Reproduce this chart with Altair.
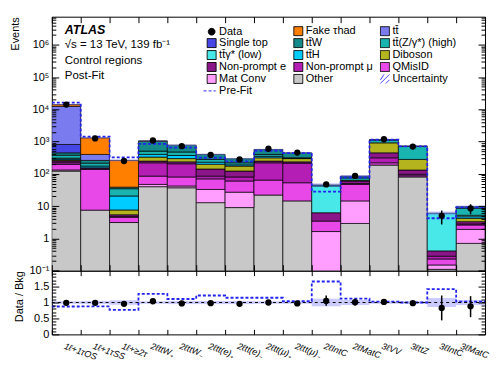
import json
import altair as alt
import pandas as pd

regions = ["1ℓ+1τOS", "1ℓ+1τSS", "1ℓ+≥2τ", "2ℓttW₊", "2ℓttW₋", "2ℓtt(e)₊", "2ℓtt(e)₋",
           "2ℓtt(μ)₊", "2ℓtt(μ)₋", "2ℓIntC", "2ℓMatC", "3ℓVV", "3ℓttZ", "3ℓIntC", "3ℓMatC"]

# post-fit yields, stacked bottom -> top
other      = [122, 7.5, 3.1, 40, 37, 12.8, 9, 22, 14.5, 0.03, 2.9, 187, 80, 0.11, 0.7]
mat_conv   = [10, 0, 0, 7, 5, 20, 18, 0, 0, 1.6, 11.6, 0, 0, 0.04, 1.2]
qmisid     = [64, 130, 1.4, 38, 38, 37, 33, 42, 38.5, 1.8, 32.5, 33, 7, 0.08, 0.7]
np_mu      = [25, 7, 0.3, 135, 125, 15, 20, 156, 162, 0, 3, 94, 10, 0.05, 0.2]
np_e       = [30, 10, 0.6, 28, 30, 56, 42, 28, 20, 2.8, 10, 134, 34, 0.13, 0.5]
diboson    = [16, 0, 2.2, 82, 62, 58, 52, 66, 62, 0, 3, 464, 149, 0, 0.9]
tth        = [20, 20, 13, 70, 73, 31, 16, 36, 7, 0, 0, 0, 0, 0, 0.5]
ttgam_low  = [20, 0, 0, 0, 0, 0, 0, 0, 0, 36, 0, 0, 0, 5.6, 0.5]
ttz_high   = [70, 40, 14, 106, 106, 50, 30, 50, 10, 3, 12, 200, 430, 0, 3.4]
ttw        = [71, 46, 4, 522, 298, 120, 73, 170, 134, 0, 10, 48, 10, 0, 1]
single_top = [365, 0, 0, 0, 0, 0, 0, 0, 0, 0, 0, 0, 0, 0, 0]
ttbar      = [11570, 139, 0, 0, 0, 0, 0, 0, 0, 0, 0, 0, 0, 0, 0]
fake_tau   = [1600, 900, 222, 8, 0, 0, 0, 0, 0, 0, 0, 0, 0, 0, 0]

data_obs = [14000, 1250, 250, 1080, 720, 385, 280, 600, 455, 47, 86, 1180, 700, 5.0, 8.5]
data_err = [118, 35, 16, 33, 27, 20, 17, 25, 21, 7, 9.3, 34, 26, 2.3, 2.9]
prefit   = [16000, 1420, 325, 850, 650, 315, 245, 520, 440, 28, 77, 1140, 710, 4.2, 9.2]

ratio_data   = [0.99, 0.99, 0.96, 1.04, 0.97, 0.98, 0.96, 1.0, 0.97, 1.05, 1.01, 1.02, 0.98, 0.83, 0.88]
ratio_lo     = [0.98, 0.97, 0.90, 1.01, 0.94, 0.93, 0.90, 0.96, 0.92, 0.90, 0.90, 0.99, 0.94, 0.44, 0.54]
ratio_hi     = [1.00, 1.02, 1.02, 1.07, 1.00, 1.03, 1.02, 1.04, 1.02, 1.22, 1.12, 1.05, 1.02, 1.22, 1.20]
ratio_prefit = [0.875, 0.88, 0.77, 1.27, 1.11, 1.22, 1.15, 1.15, 1.04, 1.66, 1.12, 1.03, 1.0, 1.42, 1.03]
unc_lo = [0.96, 0.95, 0.93, 0.96, 0.95, 0.95, 0.95, 0.96, 0.96, 0.88, 0.92, 0.96, 0.96, 0.86, 0.92]
unc_hi = [1.04, 1.05, 1.07, 1.04, 1.05, 1.05, 1.05, 1.04, 1.04, 1.12, 1.08, 1.04, 1.04, 1.14, 1.08]

stack_names = ["Other", "Mat Conv", "QMisID", "Non-prompt μ", "Non-prompt e", "Diboson", "tt̄H",
               "tt̄γ* (low)", "tt̄(Z/γ*) (high)", "tt̄W", "Single top", "tt̄", "Fake τhad"]
stack_values = [other, mat_conv, qmisid, np_mu, np_e, diboson, tth, ttgam_low, ttz_high, ttw,
                single_top, ttbar, fake_tau]

legend_order = ["Data", "Fake τhad", "tt̄", "Single top", "tt̄W", "tt̄(Z/γ*) (high)",
                "tt̄γ* (low)", "tt̄H", "Diboson", "Non-prompt e", "Non-prompt μ", "QMisID",
                "Mat Conv", "Other", "Uncertainty", "Pre-Fit"]
legend_colors = ["#000000", "#ff7f00", "#7b7bf0", "#4646e6", "#148a8a", "#1ab4b0",
                 "#48e8e8", "#00ccff", "#b4b41e", "#8a168a", "#b41eb4", "#e848e8",
                 "#ff9eff", "#c8c8c8", "#ffffff", "#2a2aff"]

n = len(regions)
edges = list(range(n + 1))

rows = []
base = [0.0] * n
for name, vals in zip(stack_names, stack_values):
    for i, v in enumerate(vals):
        if v > 0:
            rows.append({"process": name, "x0": i, "x1": i + 1,
                         "y0": max(base[i], 1e-3), "y1": base[i] + v})
        base[i] += v
stack_df = pd.DataFrame(rows)
total = base

bin_df = pd.DataFrame({
    "x0": list(range(n)), "x1": [i + 1 for i in range(n)], "xc": [i + 0.5 for i in range(n)],
    "unc_lo": [t * l for t, l in zip(total, unc_lo)], "unc_hi": [t * h for t, h in zip(total, unc_hi)],
    "data": data_obs, "data_lo": [d - e for d, e in zip(data_obs, data_err)],
    "data_hi": [d + e for d, e in zip(data_obs, data_err)],
    "r": ratio_data, "r_lo": ratio_lo, "r_hi": ratio_hi, "b_lo": unc_lo, "b_hi": unc_hi,
})
step_df = pd.DataFrame({"x": edges, "prefit": prefit + [prefit[-1]],
                        "rprefit": ratio_prefit + [ratio_prefit[-1]]})

FONT = "Liberation Sans"
W, H, RH = 435, 255, 64
major = [10.0 ** e for e in range(-1, 7)]
minor = [m * 10.0 ** e for e in range(-1, 7) for m in range(2, 10) if m * 10.0 ** e < 7.4e6]
r_major = [0, 0.5, 1, 1.5, 2]
r_minor = [k / 10 for k in range(1, 20) if k % 5 != 0]

xs = alt.Scale(domain=[0, n], nice=False, zero=False)
ys = alt.Scale(type="log", domain=[0.1, 7.4e6], nice=False)
rs = alt.Scale(domain=[0, 2], nice=False, zero=False)


def tick_axis(orient, values, size):
    return alt.Axis(orient=orient, values=values, tickSize=size, offset=-size, labels=False,
                    domain=False, grid=False, title=None, tickColor="black", tickWidth=1, zindex=2)


main_y_axis = alt.Axis(
    orient="left", values=major, tickSize=7, offset=-7, domain=False, grid=False, zindex=2,
    tickColor="black", labelExpr="datum.value < 0.5 ? '10⁻¹' : datum.value < 5 ? '1' : datum.value < 50 ? '10' : "
    "'10' + ['', '', '²', '³', '⁴', '⁵', '⁶'][round(log(datum.value) / LN10)]",
    labelFontSize=11, labelPadding=3, labelOverlap=False, title="Events", titleAnchor="end",
    titleFontSize=11, titleFontWeight="normal", titlePadding=9)

sym_expr = ("datum.value === 'Data' ? 'M0,-0.75A0.75,0.75,0,1,1,0,0.75A0.75,0.75,0,1,1,0,-0.75Z' : "
            "datum.value === 'Pre-Fit' ? 'M-1.8,0L0.9,0' : "
            "datum.value === 'Uncertainty' ? 'M-1,0.2L-0.2,-1M-1,1L1,-1M0.2,1L1,0.2' : 'square'")
leg = alt.Legend(
    orient="none", legendX=155, legendY=9, columns=3, direction="horizontal", title=None, padding=0,
    labelFont=FONT, labelFontSize=11, labelColor="black", labelLimit=300, labelOffset=2,
    symbolSize=81, symbolStrokeWidth=1, symbolOffset=0, rowPadding=-1.2, columnPadding=5,
    symbolType={"expr": sym_expr},
    symbolStrokeColor={"expr": "datum.value === 'Pre-Fit' || datum.value === 'Uncertainty' ? '#2a2aff' : 'black'"},
    symbolDash={"expr": "datum.value === 'Pre-Fit' ? [3, 2] : [1, 0]"})

rects = alt.Chart(stack_df).mark_rect(stroke="black", strokeWidth=0.7, clip=True).encode(
    x=alt.X("x0:Q", scale=xs, axis=tick_axis("bottom", edges, 6)), x2="x1:Q",
    y=alt.Y("y1:Q", scale=ys, axis=main_y_axis), y2="y0:Q",
    color=alt.Color("process:N", scale=alt.Scale(domain=legend_order, range=legend_colors), legend=leg))

band = alt.Chart(bin_df).mark_rect(fill="#6b6bff", opacity=0.35, clip=True).encode(
    x=alt.X("x0:Q", scale=xs, axis=tick_axis("top", edges, 6)), x2="x1:Q",
    y=alt.Y("unc_lo:Q", scale=ys, axis=tick_axis("right", major, 7)), y2="unc_hi:Q")

step = alt.Chart(step_df).mark_line(interpolate="step-after", color="#2323f0", strokeDash=[3, 2],
                                    strokeWidth=1.8, clip=True).encode(
    x=alt.X("x:Q", scale=xs, axis=None),
    y=alt.Y("prefit:Q", scale=ys, axis=tick_axis("left", minor, 4)))

errs = alt.Chart(bin_df).mark_rule(color="black", strokeWidth=1.5).encode(
    x=alt.X("xc:Q", scale=xs, axis=None),
    y=alt.Y("data_lo:Q", scale=ys, axis=tick_axis("right", minor, 4)), y2="data_hi:Q")

pts = alt.Chart(bin_df).mark_circle(size=40, color="black", opacity=1).encode(
    x=alt.X("xc:Q", scale=xs, axis=None), y=alt.Y("data:Q", scale=ys, axis=None))

one = alt.Data(values=[{}])
t1 = alt.Chart(one).mark_text(text="ATLAS", font=FONT, fontSize=12.5, fontWeight="bold",
                              fontStyle="italic", align="left", baseline="middle", color="black").encode(
    x=alt.value(13), y=alt.value(13))
t2 = alt.Chart(one).mark_text(text="√s = 13 TeV, 139 fb⁻¹", font=FONT, fontSize=11.5, align="left",
                              baseline="middle", color="black").encode(x=alt.value(13), y=alt.value(28.5))
t3 = alt.Chart(one).mark_text(text="Control regions", font=FONT, fontSize=11.5, align="left",
                              baseline="middle", color="black").encode(x=alt.value(13), y=alt.value(44.5))
t4 = alt.Chart(one).mark_text(text="Post-Fit", font=FONT, fontSize=11.5, align="left",
                              baseline="middle", color="black").encode(x=alt.value(13), y=alt.value(60))

main = alt.layer(rects, band, step, errs, pts, t1, t2, t3, t4).resolve_axis(
    x="independent", y="independent").properties(width=W, height=H)

ratio_y_axis = alt.Axis(
    orient="left", values=r_major, tickSize=7, offset=-7, domain=False, grid=False, zindex=2,
    tickColor="black", labelExpr="datum.value >= 2 ? '' : '' + datum.value", labelFontSize=11,
    labelPadding=3, labelOverlap=False, title="Data / Bkg", titleAnchor="end", titleFontSize=11,
    titleFontWeight="normal", titlePadding=9)

label_expr = json.dumps(regions, ensure_ascii=False) + "[floor(datum.value)]"
x_label_axis = alt.Axis(orient="bottom", values=[i + 0.5 for i in range(n)], labelExpr=label_expr,
                        ticks=False, domain=False, grid=False, title=None, labelAngle=20,
                        labelAlign="left", labelBaseline="top", labelPadding=7, labelFontSize=9,
                        labelFontStyle="italic", labelOverlap=False, labelFlush=False, labelBound=False,
                        labelOffset={"condition": {"test": "datum.value > 14", "value": -9},
                                     "value": -1})

rband = alt.Chart(bin_df).mark_rect(fill="#6b6bff", opacity=0.35).encode(
    x=alt.X("x0:Q", scale=xs, axis=tick_axis("bottom", edges, 5)), x2="x1:Q",
    y=alt.Y("b_lo:Q", scale=rs, axis=ratio_y_axis), y2="b_hi:Q")

rline = alt.Chart(step_df).mark_line(interpolate="step-after", color="#2323f0", strokeDash=[3, 2],
                                     strokeWidth=1.8, clip=True).encode(
    x=alt.X("x:Q", scale=xs, axis=tick_axis("top", edges, 5)),
    y=alt.Y("rprefit:Q", scale=rs, axis=tick_axis("right", r_major, 7)))

rone = alt.Chart(one).mark_rule(color="black", strokeDash=[3, 3], strokeWidth=1).encode(
    y=alt.Y(datum=1, scale=rs, axis=None))

rerr = alt.Chart(bin_df).mark_rule(color="black", strokeWidth=1.5).encode(
    x=alt.X("xc:Q", scale=xs, axis=None),
    y=alt.Y("r_lo:Q", scale=rs, axis=tick_axis("left", r_minor, 4)), y2="r_hi:Q")

rpts = alt.Chart(bin_df).mark_circle(size=40, color="black", opacity=1).encode(
    x=alt.X("xc:Q", scale=xs, axis=x_label_axis),
    y=alt.Y("r:Q", scale=rs, axis=tick_axis("right", r_minor, 4)))

ratio = alt.layer(rband, rline, rone, rerr, rpts).resolve_axis(
    x="independent", y="independent").properties(width=W, height=RH)

chart = alt.vconcat(main, ratio, spacing=0, bounds="flush").resolve_scale(
    color="independent").properties(
    padding={"left": 0, "top": 7, "right": 0, "bottom": 2}).configure_view(
    stroke="black", strokeWidth=1).configure_axis(
    labelFont=FONT, titleFont=FONT, labelColor="black", titleColor="black")

chart.save("out.html", embed_options={"renderer": "svg", "actions": False})
